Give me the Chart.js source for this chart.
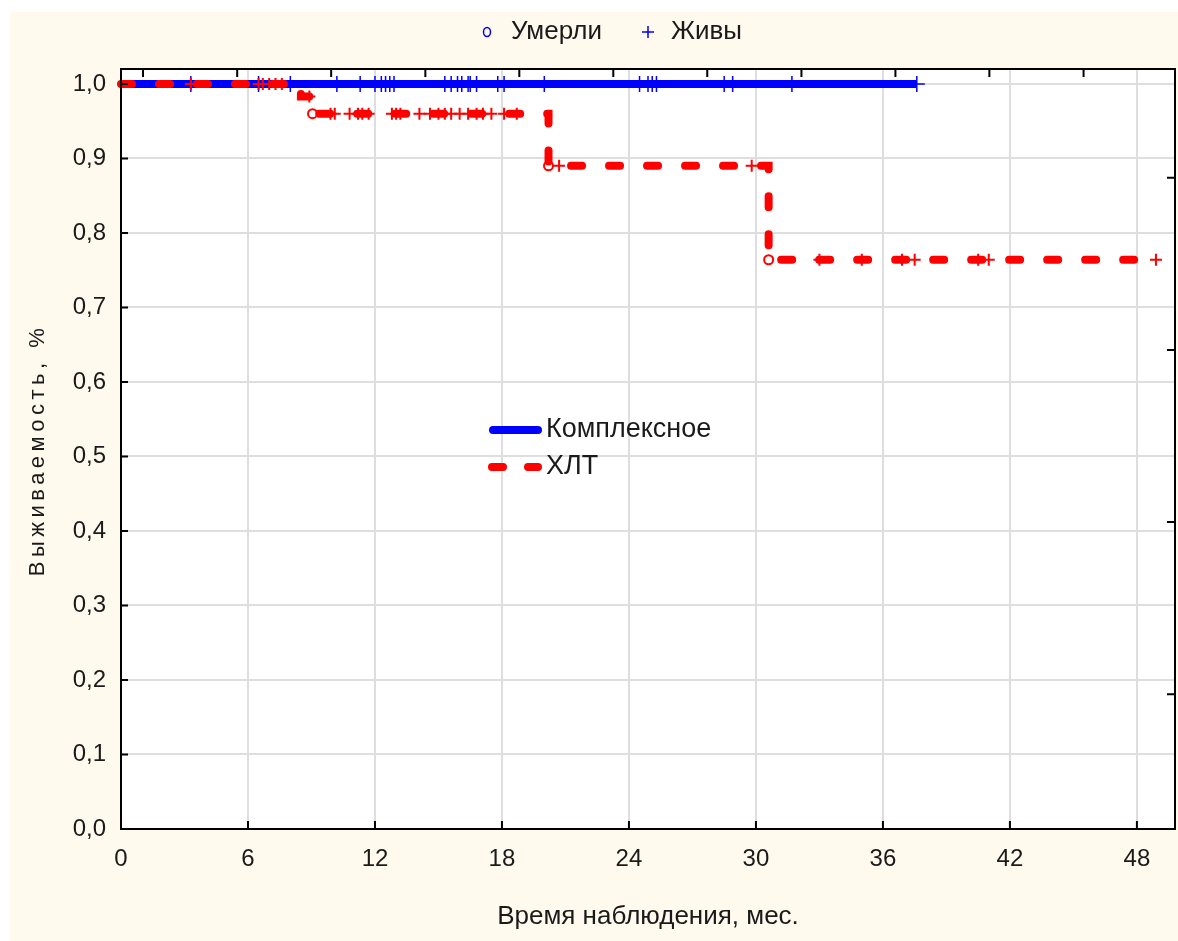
<!DOCTYPE html>
<html>
<head>
<meta charset="utf-8">
<script src="https://cdn.jsdelivr.net/npm/chart.js"></script>
<style>
  html, body { margin: 0; padding: 0; background: #ffffff; }
  #wrap { position: absolute; left: 0; top: 0; width: 1178px; height: 941px; }
</style>
</head>
<body>
<div id="wrap"><canvas id="km" width="1178" height="941"></canvas></div>
<script>
// Kaplan-Meier steps (time in months, survival)
const complexTimes = [0, 37.6];
const complexSurv = [1, 1];
const hltTimes = [0, 8.5, 9.05, 20.2, 30.6, 48.9];
const hltSurv = [1, 0.983, 0.96, 0.89, 0.764, 0.764];

// censored ("Живы") and death ("Умерли") marks
const complexAlive = [3.3, 6.5, 8.0, 10.2, 11.3, 12.0, 12.3, 12.5, 12.7, 12.9, 15.3, 15.6, 15.9, 16.1,
  16.4, 16.5, 16.8, 17.8, 18.1, 20.0, 24.5, 24.9, 25.1, 25.3, 28.5, 28.9, 31.7, 37.6];
const hltAlive = [3.3, 6.5, 6.7, 7.0, 7.3, 7.6, 8.9, 9.9, 10.1, 10.8, 11.2, 11.4, 11.7, 12.8, 13.0, 13.2,
  14.1, 14.6, 15.0, 15.3, 15.6, 16.0, 16.4, 16.8, 17.1, 17.5, 18.1, 18.7, 20.7, 29.8, 33.0, 35.0, 36.9,
  37.5, 40.5, 41.0, 48.9];
const hltDead = [9.05, 20.2, 30.6];

const xTicks = [0, 6, 12, 18, 24, 30, 36, 42, 48];
const yTicks = [0, 0.1, 0.2, 0.3, 0.4, 0.5, 0.6, 0.7, 0.8, 0.9, 1.0];
const topTicks = [1.04, 5.49, 9.93, 14.38, 18.82, 23.26, 27.70, 32.15, 36.59, 41.03, 45.48];
const rightTicks = [0.874, 0.643, 0.412, 0.181];

const seriesNames = ['Комплексное', 'ХЛТ'];
const markNames = ['Умерли', 'Живы'];

const BLUE = '#0000ff';
const RED = '#ff0000';
const FONT = '"Liberation Sans", Arial, sans-serif';
const TEXT = '#1a1a1a';

function survAt(times, surv, t) {
    let s = surv[0];
    for (let i = 0; i < times.length; i++) {
        if (times[i] <= t) s = surv[i];
    }
    return s;
}
const pts = (times, surv) => times.map((t, i) => ({ x: t, y: surv[i] }));
const marks = (list, times, surv) => list.map(t => ({ x: t, y: survAt(times, surv, t) }));

// background, frame, inward ticks, legends
const decor = {
    id: 'decor',
    beforeDraw(chart) {
        const { ctx, chartArea: a } = chart;
        ctx.save();
        ctx.fillStyle = '#ffffff';
        ctx.fillRect(0, 0, chart.width, chart.height);
        ctx.fillStyle = '#fff9ee';
        ctx.fillRect(10, 12, chart.width - 10, chart.height - 12);
        ctx.fillStyle = '#ffffff';
        ctx.fillRect(a.left, a.top, a.right - a.left, a.bottom - a.top);
        ctx.restore();
    },
    afterDraw(chart) {
        const { ctx, chartArea: a, scales } = chart;
        const x = scales.x, y = scales.y;
        ctx.save();
        ctx.strokeStyle = '#000000';
        ctx.lineWidth = 2;
        ctx.beginPath();
        xTicks.forEach(v => { const px = x.getPixelForValue(v); ctx.moveTo(px, a.bottom); ctx.lineTo(px, a.bottom - 8); });
        topTicks.forEach(v => { const px = x.getPixelForValue(v); ctx.moveTo(px, a.top); ctx.lineTo(px, a.top + 8); });
        yTicks.forEach(v => { const py = y.getPixelForValue(v); ctx.moveTo(a.left, py); ctx.lineTo(a.left + 7, py); });
        rightTicks.forEach(v => { const py = y.getPixelForValue(v); ctx.moveTo(a.right, py); ctx.lineTo(a.right - 8, py); });
        ctx.stroke();
        ctx.strokeRect(a.left, a.top, a.right - a.left, a.bottom - a.top);

        // y title with letter spacing
        ctx.fillStyle = TEXT;
        ctx.font = '22px ' + FONT;
        ctx.letterSpacing = '4.5px';
        ctx.textAlign = 'center';
        ctx.textBaseline = 'middle';
        ctx.translate(38, 450);
        ctx.rotate(-Math.PI / 2);
        ctx.fillText('Выживаемость, %', 0, 0);
        ctx.setTransform(1, 0, 0, 1, 0, 0);
        ctx.letterSpacing = '0px';

        // top legend
        ctx.font = '26px ' + FONT;
        ctx.textAlign = 'left';
        ctx.strokeStyle = BLUE;
        ctx.lineWidth = 1.5;
        ctx.beginPath();
        ctx.ellipse(487, 32, 3.5, 4.5, 0, 0, Math.PI * 2);
        ctx.stroke();
        ctx.beginPath();
        ctx.moveTo(642, 32); ctx.lineTo(654, 32);
        ctx.moveTo(648, 26); ctx.lineTo(648, 38);
        ctx.stroke();
        ctx.fillText(markNames[0], 511, 32);
        ctx.fillText(markNames[1], 671, 32);

        // inline series legend
        ctx.lineWidth = 8;
        ctx.lineCap = 'round';
        ctx.strokeStyle = BLUE;
        ctx.beginPath(); ctx.moveTo(493, 430); ctx.lineTo(538, 430); ctx.stroke();
        ctx.strokeStyle = RED;
        ctx.beginPath();
        ctx.moveTo(492, 467); ctx.lineTo(503, 467);
        ctx.moveTo(528, 467); ctx.lineTo(538, 467);
        ctx.stroke();
        ctx.font = '27px ' + FONT;
        ctx.fillText(seriesNames[0], 546, 430);
        ctx.fillText(seriesNames[1], 546, 467);
        ctx.restore();
    }
};

new Chart(document.getElementById('km'), {
    type: 'scatter',
    data: {
        datasets: [
            {
                label: markNames[0] + ' ' + seriesNames[1],
                data: marks(hltDead, hltTimes, hltSurv),
                pointStyle: 'circle',
                pointRadius: 4.5,
                borderColor: RED,
                backgroundColor: 'rgba(0,0,0,0)',
                borderWidth: 2,
                showLine: false
            },
            {
                label: markNames[1] + ' ' + seriesNames[1],
                data: marks(hltAlive, hltTimes, hltSurv),
                pointStyle: 'cross',
                pointRadius: 6,
                borderColor: RED,
                borderWidth: 2,
                showLine: false
            },
            {
                label: seriesNames[1],
                data: pts(hltTimes, hltSurv),
                showLine: true,
                stepped: 'before',
                borderColor: RED,
                borderWidth: 8,
                borderDash: [11, 27],
                borderCapStyle: 'round',
                pointRadius: 0
            },
            {
                label: markNames[1] + ' ' + seriesNames[0],
                data: marks(complexAlive, complexTimes, complexSurv),
                pointStyle: 'cross',
                pointRadius: 8,
                borderColor: BLUE,
                borderWidth: 1.5,
                showLine: false
            },
            {
                label: seriesNames[0],
                data: pts(complexTimes, complexSurv),
                showLine: true,
                stepped: 'before',
                borderColor: BLUE,
                borderWidth: 8,
                pointRadius: 0
            }
        ]
    },
    options: {
        responsive: false,
        animation: false,
        clip: false,
        layout: { autoPadding: false, padding: { left: 0, right: 3, top: 69, bottom: 0 } },
        plugins: { legend: { display: false }, tooltip: { enabled: false } },
        scales: {
            x: {
                type: 'linear',
                min: 0,
                max: 49.8,
                afterBuildTicks: s => { s.ticks = xTicks.map(v => ({ value: v })); },
                afterFit: s => { s.height = 112; s.paddingLeft = 0; s.paddingRight = 0; },
                grid: { color: '#dedede', lineWidth: 2, drawTicks: false },
                border: { display: false },
                ticks: {
                    padding: 16,
                    color: TEXT,
                    font: { family: FONT, size: 24 },
                    maxRotation: 0,
                    callback: v => String(v)
                },
                title: {
                    display: true,
                    text: 'Время наблюдения, мес.',
                    color: TEXT,
                    font: { family: FONT, size: 26 },
                    padding: { top: 0, bottom: 9 }
                }
            },
            y: {
                type: 'linear',
                min: 0,
                max: 1.02,
                afterBuildTicks: s => { s.ticks = yTicks.map(v => ({ value: v })); },
                afterFit: s => { s.width = 121; },
                grid: { color: '#dedede', lineWidth: 2, drawTicks: false },
                border: { display: false },
                ticks: {
                    padding: 15,
                    color: TEXT,
                    font: { family: FONT, size: 24 },
                    callback: v => v.toFixed(1).replace('.', ',')
                }
            }
        }
    },
    plugins: [decor]
});
</script>
</body>
</html>
